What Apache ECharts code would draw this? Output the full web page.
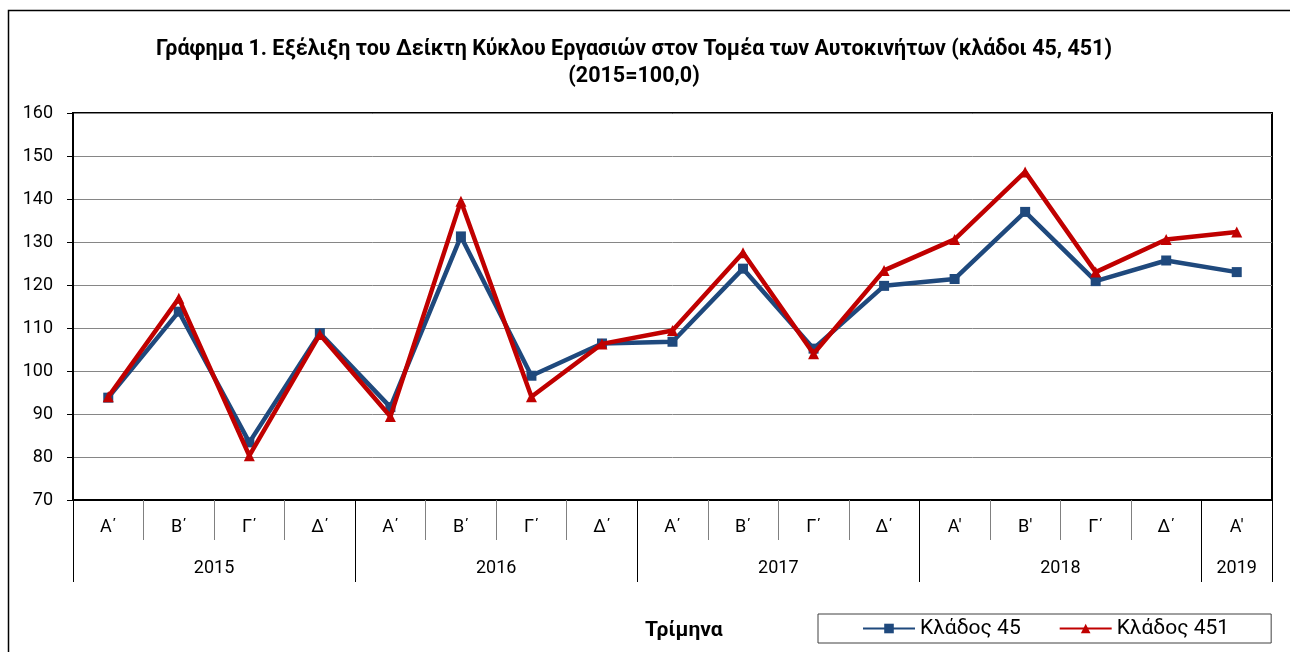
<!DOCTYPE html>
<html>
<head>
<meta charset="utf-8">
<script src="https://cdn.jsdelivr.net/npm/echarts@6/dist/echarts.min.js"></script>
<style>
  html, body { margin: 0; padding: 0; background: #fff; }
  #chart { width: 1290px; height: 652px; }
</style>
</head>
<body>
<div id="chart"></div>
<script>
const quarters = ["Α΄", "Β΄", "Γ΄", "Δ΄", "Α΄", "Β΄", "Γ΄", "Δ΄", "Α΄", "Β΄", "Γ΄", "Δ΄", "Α'", "Β'", "Γ΄", "Δ΄", "Α'"];
const years = ["2015", "2016", "2017", "2018", "2019"];
const quartersPerYear = [4, 4, 4, 4, 1];

const klados45 = [93.8, 113.8, 83.4, 108.8, 91.6, 131.3, 98.9, 106.4, 106.8, 123.8, 105.2, 119.8, 121.4, 137.0, 120.9, 125.7, 123.0];
const klados451 = [94.0, 116.9, 80.3, 108.5, 89.4, 139.5, 94.0, 106.3, 109.4, 127.5, 104.0, 123.4, 130.6, 146.3, 123.0, 130.6, 132.3];

const font = "Roboto";

// year axis: half-quarter slots, year label in the middle, tick at year boundaries
let yearSlots = [];
let yearTicks = new Set([0]);
let pos = 0;
quartersPerYear.forEach((n, i) => {
  for (let k = 0; k < n * 2; k++) yearSlots.push(k === n ? years[i] : "");
  pos += n * 2;
  yearTicks.add(pos);
});
yearSlots.push("");

let chart = echarts.init(document.getElementById("chart"), null, { renderer: "canvas" });

chart.setOption({
  animation: false,
  backgroundColor: "#fff",
  textStyle: { fontFamily: font },
  title: [
    {
      text: "Γράφημα 1. Εξέλιξη του Δείκτη Κύκλου Εργασιών στον Τομέα των Αυτοκινήτων (κλάδοι 45, 451)\n(2015=100,0)",
      left: 629,
      top: 31,
      textAlign: "center",
      textStyle: { fontFamily: font, fontSize: 21.5, fontWeight: "bold", color: "#000", lineHeight: 27, align: "center" }
    },
    {
      text: "Τρίμηνα",
      left: 640,
      top: 615,
      textStyle: { fontFamily: font, fontSize: 21, fontWeight: "bold", color: "#000" }
    }
  ],
  graphic: [
    {
      type: "polyline",
      shape: { points: [[8.5, 652], [8.5, 10.5], [1290, 10.5]] },
      style: { stroke: "#000", lineWidth: 1.5, fill: null },
      silent: true
    }
  ],
  legend: {
    left: 818,
    top: 614,
    padding: [4, 42, 4, 44],
    itemWidth: 52,
    itemHeight: 12,
    itemGap: 38,
    borderColor: "#404040",
    borderWidth: 1,
    textStyle: { fontFamily: font, fontSize: 21, color: "#000" },
    data: ["Κλάδος 45", "Κλάδος 451"]
  },
  grid: {
    left: 73,
    right: 18,
    top: 113,
    bottom: 152,
    show: true,
    borderColor: "#000",
    borderWidth: 2
  },
  xAxis: [
    {
      type: "category",
      data: quarters,
      boundaryGap: true,
      axisLine: { show: true, lineStyle: { color: "#000", width: 2 } },
      axisTick: { show: true, interval: 0, length: 40, lineStyle: { color: "#808080", width: 1 } },
      axisLabel: { interval: 0, margin: 18, fontSize: 18, color: "#000", fontFamily: font },
      splitLine: { show: false }
    },
    {
      type: "category",
      data: yearSlots,
      boundaryGap: false,
      position: "bottom",
      axisLine: { show: false },
      axisTick: {
        show: true,
        length: 82,
        interval: (i) => yearTicks.has(i),
        lineStyle: { color: "#000", width: 1 }
      },
      axisLabel: { interval: 0, margin: 59, fontSize: 18, color: "#000", fontFamily: font },
      splitLine: { show: false }
    }
  ],
  yAxis: {
    type: "value",
    min: 70,
    max: 160,
    interval: 10,
    axisLine: { show: true, lineStyle: { color: "#000", width: 2 } },
    axisTick: { show: true, length: 6, lineStyle: { color: "#000", width: 1 } },
    axisLabel: { margin: 20, fontSize: 18, color: "#000", fontFamily: font },
    splitLine: { show: true, lineStyle: { color: "#868686", width: 1 } }
  },
  series: [
    {
      name: "Κλάδος 45",
      type: "line",
      data: klados45,
      symbol: "rect",
      symbolSize: 10,
      lineStyle: { color: "#1F497D", width: 4.5 },
      itemStyle: { color: "#1F497D" },
      z: 2
    },
    {
      name: "Κλάδος 451",
      type: "line",
      data: klados451,
      symbol: "triangle",
      symbolSize: 11,
      lineStyle: { color: "#C00000", width: 4.5 },
      itemStyle: { color: "#C00000" },
      z: 3
    }
  ]
});
</script>
</body>
</html>
